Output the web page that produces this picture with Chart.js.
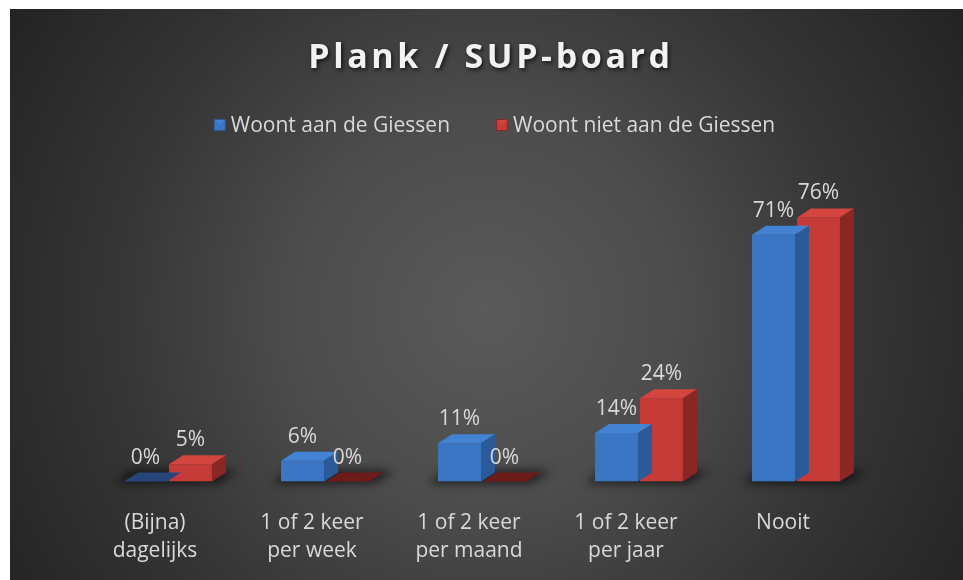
<!DOCTYPE html>
<html>
<head>
<meta charset="utf-8">
<script src="https://cdn.jsdelivr.net/npm/chart.js@4/dist/chart.umd.min.js"></script>
<style>
  html, body { margin: 0; padding: 0; background: #fff; }
  #wrap {
    position: absolute; left: 10px; top: 9px; width: 953px; height: 571px;
    background: radial-gradient(circle farthest-corner at 50% 53%, #5a5a5a 0%, #4c4c4c 35%, #363636 65%, #232323 100%);
  }
</style>
</head>
<body>
<div id="wrap"><canvas id="c"></canvas></div>
<script>
const chartTitle = 'Plank / SUP-board';
const categories = [
  ['(Bijna)', 'dagelijks'],
  ['1 of 2 keer', 'per week'],
  ['1 of 2 keer', 'per maand'],
  ['1 of 2 keer', 'per jaar'],
  'Nooit'
];
const seriesNames = ['Woont aan de Giessen', 'Woont niet aan de Giessen'];
const aanGiessen = [0, 6, 11, 14, 71];
const nietAanGiessen = [5, 0, 0, 24, 76];

const FONT = "'Open Sans', 'Noto Sans', sans-serif";
const TXT = '#d9d9d9';
const DX = 14, DY = 9;   // 3d depth offset
const palette = [
  { front: '#3a76c4', top: '#4383d3', side: '#2b5a99', flat: '#26467a' },
  { front: '#c63a37', top: '#d4453f', side: '#8a2725', flat: '#6d1c1a' }
];
const seriesVals = [aanGiessen, nietAanGiessen];

function poly(c, pts, fill) {
  c.beginPath();
  c.moveTo(pts[0][0], pts[0][1]);
  for (let i = 1; i < pts.length; i++) c.lineTo(pts[i][0], pts[i][1]);
  c.closePath();
  c.fillStyle = fill;
  c.fill();
}

const depthPlugin = {
  id: 'depth',
  beforeDatasetsDraw(ch) {
    const c = ch.ctx, m0 = ch.getDatasetMeta(0), m1 = ch.getDatasetMeta(1);
    c.save();
    c.filter = 'blur(5px)';
    m0.data.forEach((b, i) => {
      const r = m1.data[i];
      const l = b.x - b.width / 2, rr = r.x + r.width / 2, base = b.base;
      poly(c, [[l - 9, base + 2], [rr + 6, base + 2], [rr + DX + 12, base - DY - 2], [l + DX - 8, base - DY - 2]], 'rgba(0,0,0,0.6)');
    });
    c.restore();
  },
  afterDatasetDraw(ch, args) {
    const c = ch.ctx, col = palette[args.index], vals = seriesVals[args.index];
    c.save();
    args.meta.data.forEach((b, i) => {
      const l = b.x - b.width / 2, r = b.x + b.width / 2, t = b.y, base = b.base;
      if (vals[i] === 0) {
        poly(c, [[l, base], [r, base], [r + DX, base - DY], [l + DX, base - DY]], col.flat);
        return;
      }
      poly(c, [[l, t], [r, t], [r + DX, t - DY], [l + DX, t - DY]], col.top);
      poly(c, [[r, t], [r + DX, t - DY], [r + DX, base - DY], [r, base]], col.side);
    });
    c.restore();
  },
  afterDatasetsDraw(ch) {
    const c = ch.ctx;
    c.save();
    c.font = '21px ' + FONT;
    c.fillStyle = TXT;
    c.textAlign = 'center';
    c.textBaseline = 'alphabetic';
    [0, 1].forEach(d => {
      ch.getDatasetMeta(d).data.forEach((b, i) => {
        c.fillText(seriesVals[d][i] + '%', b.x, b.y - 18);
      });
    });
    c.restore();
  },
  afterDraw(ch) {
    const c = ch.ctx;
    c.save();
    // title
    c.font = 'bold 34px ' + FONT;
    c.letterSpacing = '3.6px';
    c.textAlign = 'center';
    c.textBaseline = 'alphabetic';
    c.shadowColor = 'rgba(0,0,0,0.7)';
    c.shadowBlur = 4; c.shadowOffsetX = 1.5; c.shadowOffsetY = 2;
    c.fillStyle = '#f2f2f2';
    c.fillText(chartTitle, 481, 59);
    c.restore();

    // legend
    c.save();
    c.font = '21px ' + FONT;
    c.textBaseline = 'alphabetic';
    const w = seriesNames.map(s => c.measureText(s).width);
    const total = 17 + w[0] + 46 + 17 + w[1];
    let x = 484.5 - total / 2;
    seriesNames.forEach((s, i) => {
      const col = palette[i];
      c.fillStyle = col.side; c.fillRect(x, 110, 12, 12);
      c.fillStyle = col.front; c.fillRect(x + 1, 111, 10, 10);
      poly(c, [[x + 1, 111], [x + 11, 111], [x + 6, 116]], col.top);
      c.fillStyle = TXT;
      c.fillText(s, x + 17, 123);
      x += 17 + w[i] + 46;
    });
    c.restore();
  }
};

new Chart(document.getElementById('c'), {
  type: 'bar',
  plugins: [depthPlugin],
  data: {
    labels: categories,
    datasets: [
      { label: seriesNames[0], data: aanGiessen, backgroundColor: palette[0].front,
        categoryPercentage: 0.573, barPercentage: 0.955 },
      { label: seriesNames[1], data: nietAanGiessen, backgroundColor: palette[1].front,
        categoryPercentage: 0.573, barPercentage: 0.955 }
    ]
  },
  options: {
    responsive: true, maintainAspectRatio: false,
    animation: false,
    layout: { padding: { top: 125, left: 79.5, right: 88.5, bottom: -4.5 } },
    scales: {
      x: {
        grid: { display: false },
        border: { display: false },
        ticks: { color: TXT, font: { family: FONT, size: 21, lineHeight: 1.38 },
                 padding: 18.5, labelOffset: -13, maxRotation: 0, autoSkip: false }
      },
      y: { display: false, min: 0, max: 100 }
    },
    plugins: { legend: { display: false }, tooltip: { enabled: false } }
  }
});
</script>
</body>
</html>
